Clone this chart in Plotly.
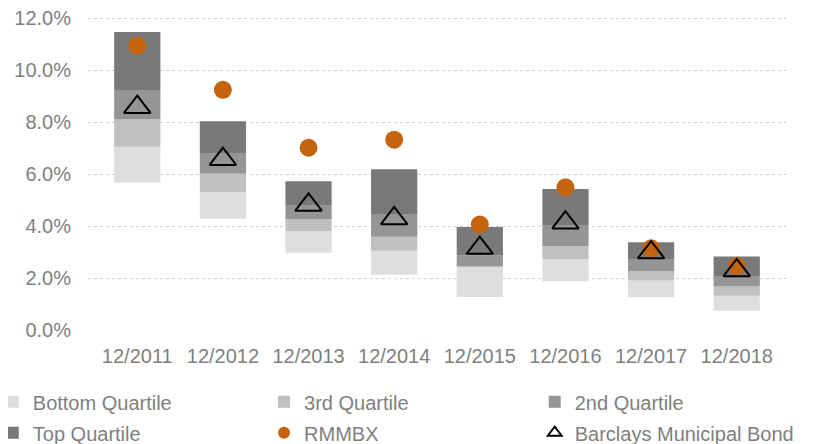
import plotly.graph_objects as go

periods = ["12/2011", "12/2012", "12/2013", "12/2014", "12/2015", "12/2016", "12/2017", "12/2018"]
# Quartile boundaries (%)
p_low = [5.67, 4.29, 2.97, 2.13, 1.27, 1.88, 1.26, 0.74]
p_25 = [7.05, 5.30, 3.80, 3.05, 2.44, 2.73, 1.90, 1.32]
p_50 = [8.12, 6.01, 4.27, 3.59, 2.46, 3.22, 2.27, 1.67]
p_75 = [9.23, 6.81, 4.81, 4.46, 2.88, 4.04, 2.73, 2.05]
p_high = [11.46, 8.03, 5.72, 6.18, 3.96, 5.42, 3.38, 2.83]
rmmbx = [10.94, 9.24, 7.01, 7.32, 4.06, 5.49, 3.14, 2.46]
barclays = [8.57, 6.57, 4.81, 4.29, 3.15, 4.13, 2.98, 2.29]
y_ticks = [0, 2, 4, 6, 8, 10, 12]
y_tick_labels = ["0.0%", "2.0%", "4.0%", "6.0%", "8.0%", "10.0%", "12.0%"]

FONT = "Liberation Sans, Arial, sans-serif"
GRAY = "#7f7f7f"

def diff(a, b):
    return [round(y - x, 4) for x, y in zip(a, b)]

fig = go.Figure()
bands = [
    ("Bottom Quartile", p_low, p_25, "#dedede", "legend"),
    ("3rd Quartile", p_25, p_50, "#c0c0c0", "legend2"),
    ("2nd Quartile", p_50, p_75, "#959595", "legend3"),
    ("Top Quartile", p_75, p_high, "#797979", "legend4"),
]
for name, lo, hi, col, lg in bands:
    fig.add_trace(go.Bar(
        x=periods, y=diff(lo, hi), base=lo, name=name,
        marker=dict(color=col, line=dict(width=0)),
        width=0.54, legend=lg, hoverinfo="skip", showlegend=True,
    ))

fig.add_trace(go.Scatter(
    x=periods, y=rmmbx, mode="markers", name="RMMBX", legend="legend5",
    marker=dict(symbol="circle", size=18, color="#c5640f"), showlegend=True,
))
fig.add_trace(go.Scatter(
    x=periods, y=barclays, mode="markers", name="Barclays Municipal Bond", legend="legend6",
    marker=dict(symbol="triangle-up-open", size=23, color="#000000", line=dict(width=2, color="#000000")),
    showlegend=True,
))

leg_common = dict(
    orientation="v", xanchor="left", yanchor="top",
    font=dict(family=FONT, size=20, color=GRAY),
    itemsizing="constant", itemwidth=30,
    bgcolor="rgba(0,0,0,0)", borderwidth=0,
)
col_x = [-0.1364, 0.2522, 0.640]
row_y = [-0.167, -0.266]

fig.update_layout(
    width=808, height=436,
    showlegend=True,
    margin=dict(l=80, r=30, t=9, b=114, autoexpand=False),
    paper_bgcolor="white", plot_bgcolor="white",
    barmode="overlay",
    font=dict(family=FONT, size=20, color=GRAY),
    xaxis=dict(
        type="category", showgrid=False, showline=False, zeroline=False,
        ticks="", tickfont=dict(family=FONT, size=20, color=GRAY),
        ticklabelstandoff=12,
    ),
    yaxis=dict(
        range=[0, 12.04], tickvals=y_ticks, ticktext=y_tick_labels,
        showgrid=True, gridcolor="#d0d0d0", griddash="dot", gridwidth=1,
        zeroline=False, showline=False, ticks="",
        tickfont=dict(family=FONT, size=20, color=GRAY),
        ticklabelstandoff=16, ticklabeloverflow="allow",
    ),
    legend=dict(x=col_x[0], y=row_y[0], **leg_common),
    legend2=dict(x=col_x[1], y=row_y[0], **leg_common),
    legend3=dict(x=col_x[2], y=row_y[0], **leg_common),
    legend4=dict(x=col_x[0], y=row_y[1], **leg_common),
    legend5=dict(x=col_x[1], y=row_y[1], **leg_common),
    legend6=dict(x=col_x[2], y=row_y[1], **leg_common),
)

fig.write_html("out.html")
